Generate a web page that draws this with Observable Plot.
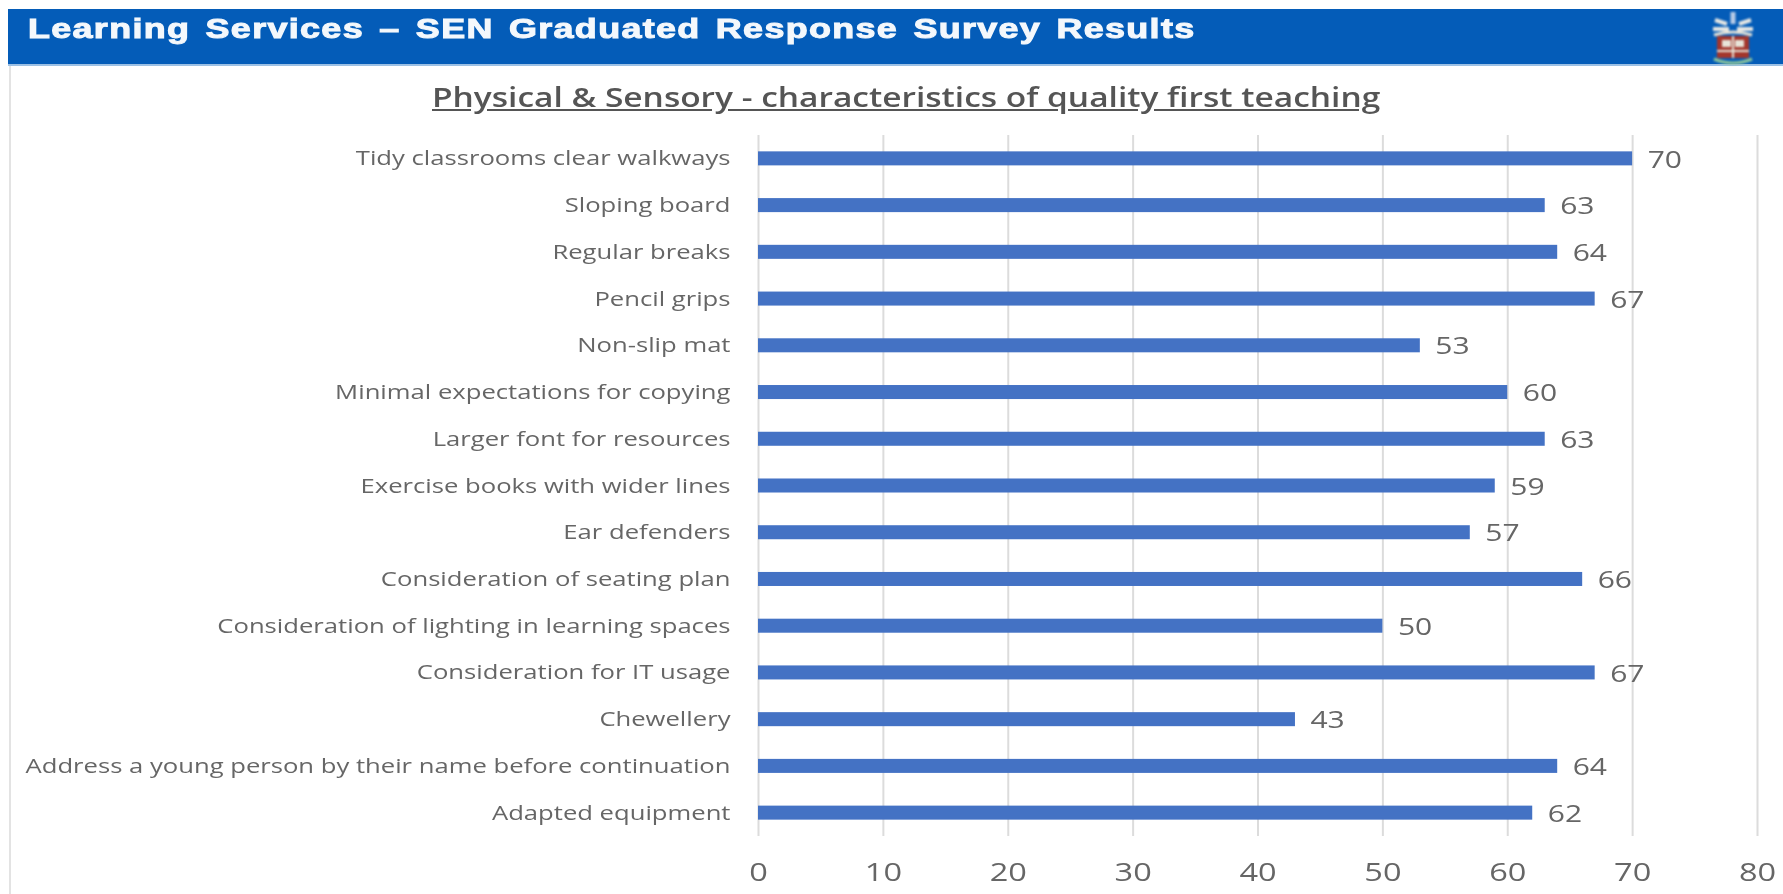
<!DOCTYPE html>
<html><head><meta charset="utf-8">
<script src="https://cdn.jsdelivr.net/npm/d3@7"></script>
<script src="https://cdn.jsdelivr.net/npm/@observablehq/plot@0.6"></script>
<style>
html,body{margin:0;padding:0;background:#fff;overflow:hidden}
#page{position:relative;width:1783px;height:894px;overflow:hidden;filter:blur(.5px)}
#band{position:absolute;left:8px;right:0;top:9px;height:55px;background:#045cb8;border-bottom:2px solid #9cc0e4}
#head{position:absolute;left:20px;top:1px;height:38px;display:flex;align-items:center;font:700 27px "Liberation Sans",Arial,sans-serif;color:#f4f8fc;letter-spacing:1px;word-spacing:3px;-webkit-text-stroke:1px #f4f8fc;white-space:nowrap;transform:scaleX(1.33);transform-origin:left center}
#crest{position:absolute;left:1708px;top:9px;filter:blur(.8px)}
#rule{position:absolute;left:9px;top:66px;width:2px;bottom:0;background:#e3e3e3}
#title{position:absolute;left:432px;top:78px;font:600 27px "Open Sans",sans-serif;color:#555;text-decoration:underline;white-space:nowrap;transform:scaleX(1.24);transform-origin:left center}
#chart{position:absolute;left:0;top:115px}
</style></head><body>
<div id="page">
<div id="band"><div id="head">Learning Services – SEN Graduated Response Survey Results</div></div>
<svg id="crest" width="50" height="56" viewBox="0 0 50 56">
<path d="M25 3v12" stroke="#b9cbe6" stroke-width="5"/>
<path d="M7 11l12 4M43 11l-12 4M5 20h16M29 20h16" stroke="#e8e8e4" stroke-width="4"/>
<path d="M6 26q19-6 38 0" stroke="#e8e4d8" stroke-width="3" fill="none"/>
<rect x="9" y="27" width="32" height="22" fill="#a3362c"/>
<rect x="14" y="31" width="9" height="7" fill="#e8e4d8"/><rect x="27" y="31" width="9" height="7" fill="#e8e4d8"/>
<path d="M25 27v22M9 42h32" stroke="#e8e4d8" stroke-width="2"/>
<path d="M6 50q19 8 38 0" stroke="#8fc79a" stroke-width="3" fill="none"/>
</svg>
<div id="rule"></div>
<div id="title">Physical &amp; Sensory - characteristics of quality first teaching</div>
<div id="chart"></div>
</div>
<script>
const categories=["Tidy classrooms clear walkways","Sloping board","Regular breaks","Pencil grips","Non-slip mat","Minimal expectations for copying","Larger font for resources","Exercise books with wider lines","Ear defenders","Consideration of seating plan","Consideration of lighting in learning spaces","Consideration for IT usage","Chewellery","Address a young person by their name before continuation","Adapted equipment"];
const values=[70,63,64,67,53,60,63,59,57,66,50,67,43,64,62];
const xTicks=[0,10,20,30,40,50,60,70,80];
const rows=categories.map((c,i)=>({c,v:values[i]}));
const plot=Plot.plot({
  width:1783,height:779,
  marginLeft:758,marginRight:26,marginTop:20,marginBottom:58,
  style:{background:"transparent",fontFamily:"'Open Sans',sans-serif"},
  x:{domain:[0,80],ticks:xTicks,label:null},
  y:{domain:categories,label:null,paddingInner:0.7,paddingOuter:0.35,round:false},
  marks:[
    Plot.gridX(xTicks,{stroke:"#dcdcdc",strokeOpacity:1,strokeWidth:2}),
    Plot.barX(rows,{x:"v",y:"c",fill:"#4472c4"}),
    Plot.text(rows,{x:"v",y:"c",text:d=>String(d.v),dx:15,dy:1,textAnchor:"start",fontSize:24,fill:"#666"}),
    Plot.axisY({tickSize:0,tickPadding:28,fontSize:20.5,color:"#666",label:null}),
    Plot.axisX(xTicks,{tickSize:0,tickPadding:26,fontSize:26,color:"#666",label:null,anchor:"bottom"})
  ]
});
document.getElementById("chart").appendChild(plot);
plot.querySelectorAll("text").forEach(t=>{
  t.setAttribute("textLength",t.getComputedTextLength()*1.25);
  t.setAttribute("lengthAdjust","spacingAndGlyphs");
});
</script>
</body></html>
